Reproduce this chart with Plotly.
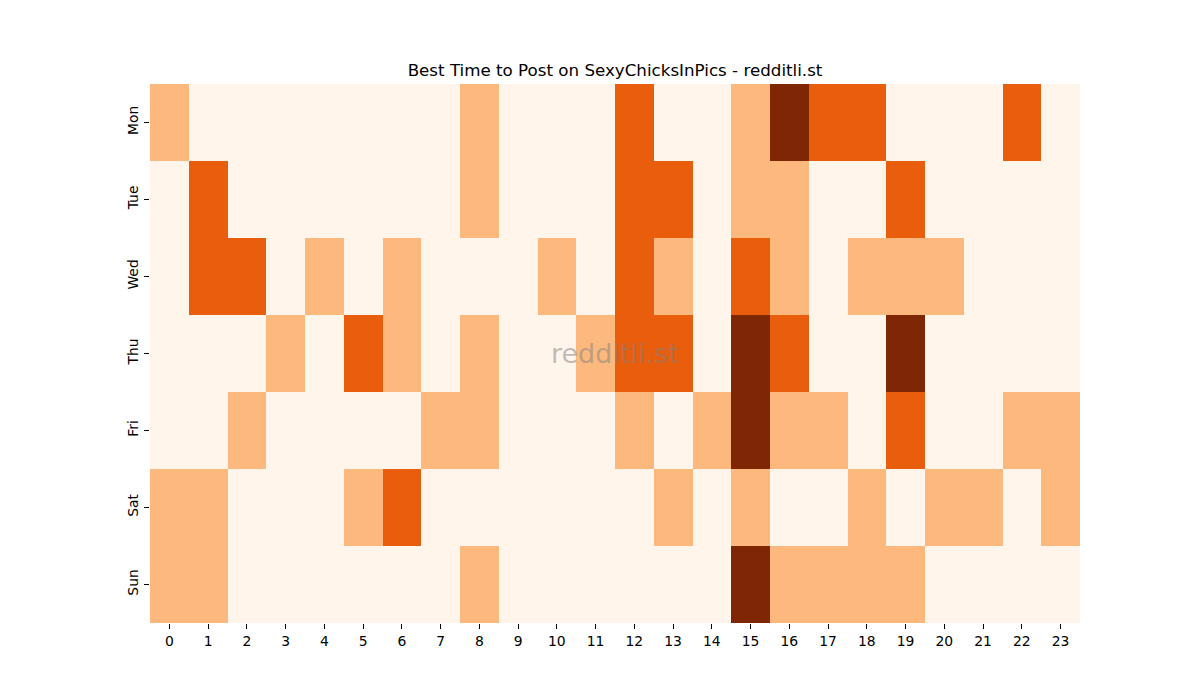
import plotly.graph_objects as go

hours = list(range(24))
days = ["Mon", "Tue", "Wed", "Thu", "Fri", "Sat", "Sun"]

mon = [1,0,0,0,0,0,0,0,1,0,0,0,2,0,0,1,3,2,2,0,0,0,2,0]
tue = [0,2,0,0,0,0,0,0,1,0,0,0,2,2,0,1,1,0,0,2,0,0,0,0]
wed = [0,2,2,0,1,0,1,0,0,0,1,0,2,1,0,2,1,0,1,1,1,0,0,0]
thu = [0,0,0,1,0,2,1,0,1,0,0,1,2,2,0,3,2,0,0,3,0,0,0,0]
fri = [0,0,1,0,0,0,0,1,1,0,0,0,1,0,1,3,1,1,0,2,0,0,1,1]
sat = [1,1,0,0,0,1,2,0,0,0,0,0,0,1,0,1,0,0,1,0,1,1,0,1]
sun = [1,1,0,0,0,0,0,0,1,0,0,0,0,0,0,3,1,1,1,1,0,0,0,0]
z = [mon, tue, wed, thu, fri, sat, sun]

colors = ["#fff5eb", "#fdb97d", "#e95e0d", "#7f2704"]
cs = []
for i, c in enumerate(colors):
    cs.append([i / 4, c])
    cs.append([(i + 1) / 4, c])

fig = go.Figure(go.Heatmap(
    z=z, x=hours, y=days, zmin=-0.5, zmax=3.5,
    colorscale=cs, showscale=False, xgap=0, ygap=0,
))

fig.update_layout(
    width=1200, height=700,
    paper_bgcolor="white", plot_bgcolor="white",
    margin=dict(l=150, r=120, t=84, b=77),
    title=dict(text="Best Time to Post on SexyChicksInPics - redditli.st",
               xref="paper", x=0.5, xanchor="center", y=1 - 70 / 700, yanchor="middle",
               font=dict(family="DejaVu Sans", size=16.7, color="black")),
    font=dict(family="DejaVu Sans", size=13.9, color="black"),
    xaxis=dict(tickmode="array", tickvals=hours, ticktext=[str(h) for h in hours],
               ticks="outside", ticklen=5, tickcolor="black", showgrid=False,
               zeroline=False, showline=False, range=[-0.5, 23.5],
               tickfont=dict(size=13.9)),
    yaxis=dict(autorange="reversed", ticks="outside", ticklen=5, tickcolor="black",
               tickangle=-90, showgrid=False, zeroline=False, showline=False,
               tickfont=dict(size=13.9)),
    annotations=[dict(text="redditli.st", x=0.5, y=0.5, xref="paper", yref="paper",
                      showarrow=False, font=dict(family="DejaVu Sans", size=27,
                                                 color="rgba(128,128,128,0.5)"))],
)

fig.write_html("out.html")
